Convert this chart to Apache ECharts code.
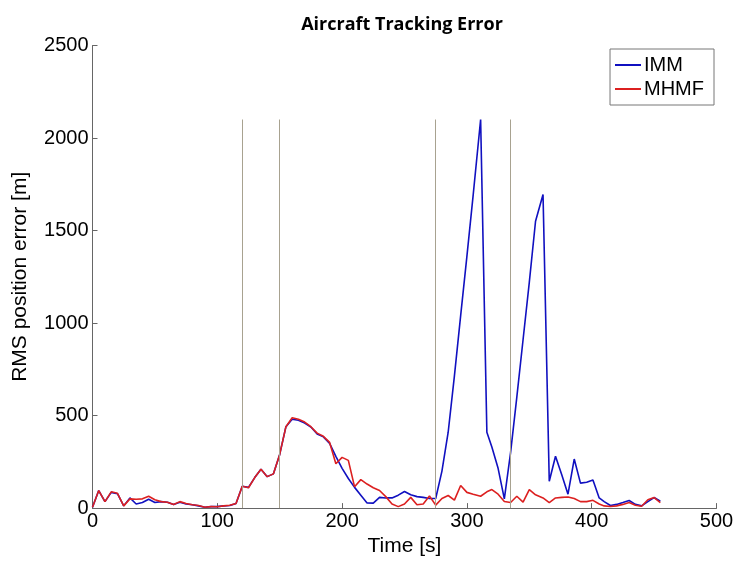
<!DOCTYPE html>
<html lang="en">

<head>
    <meta charset="UTF-8" />
    <title>Aircraft Tracking Error</title>
    <script src="https://cdn.jsdelivr.net/npm/echarts@6/dist/echarts.min.js"></script>
</head>
<style>
    * {
        margin: 0;
        padding: 0;
    }

    #main {
        width: 740px;
        height: 562px;
        background: #fff;
    }
</style>

<body>
    <div id="main"></div>
</body>
<script>
    // time samples [s]
    const times = [
        0, 5, 10, 15, 20, 25, 30, 35, 40, 45,
        50, 55, 60, 65, 70, 75, 80, 85, 90, 95,
        100, 105, 110, 115, 120, 125, 130, 135, 140, 145,
        150, 155, 160, 165, 170, 175, 180, 185, 190, 195,
        200, 205, 210, 215, 220, 225, 230, 235, 240, 245,
        250, 255, 260, 265, 270, 275, 280, 285, 290, 295,
        300, 305, 311, 316, 320, 325, 330, 335, 340, 345,
        350, 355, 361, 366, 371, 376, 381, 386, 391, 396,
        401, 406, 410, 415, 420, 425, 430, 435, 440, 445,
        450, 455
    ];
    const imm = [
        5, 95, 35, 85, 78, 12, 55, 22, 30, 48,
        30, 35, 32, 20, 32, 22, 18, 12, 5, 8,
        8, 12, 14, 25, 118, 112, 165, 210, 170, 185,
        290, 440, 480, 475, 460, 438, 400, 385, 350, 280,
        215, 160, 112, 70, 28, 27, 58, 55, 55, 70,
        90, 72, 62, 58, 52, 52, 200, 410, 715, 1040,
        1360, 1690, 2100, 410, 330, 215, 50, 300, 600, 910,
        1220, 1550, 1695, 145, 280, 180, 75, 265, 135, 140,
        152, 55, 35, 14, 20, 30, 41, 20, 12, 35,
        57, 37
    ];
    const mhmf = [
        5, 95, 35, 88, 80, 12, 50, 48, 50, 64,
        45, 35, 32, 20, 35, 25, 18, 14, 5, 8,
        7, 12, 15, 25, 118, 110, 165, 210, 170, 185,
        290, 440, 488, 480, 465, 440, 405, 388, 355, 240,
        274, 258, 115, 154, 130, 110, 95, 62, 22, 8,
        22, 58, 18, 22, 65, 16, 52, 68, 43, 122,
        85, 75, 64, 88, 100, 75, 36, 30, 64, 32,
        100, 72, 55, 30, 55, 58, 60, 52, 35, 35,
        42, 22, 12, 9, 12, 20, 30, 15, 10, 45,
        57, 30
    ];
    // mode change instants [s]
    const switchTimes = [120, 150, 275, 335];
    const switchTop = 2100;

    const xTicks = [0, 100, 200, 300, 400, 500];
    const yTicks = [0, 500, 1000, 1500, 2000, 2500];

    var myChart = echarts.init(document.getElementById("main"));
    var tickFont = { fontFamily: "Liberation Sans", fontSize: 20, color: "#000" };
    var nameFont = { fontFamily: "Liberation Sans", fontSize: 21, color: "#000" };
    var option = {
        animation: false,
        backgroundColor: "#fff",
        title: {
            text: "Aircraft Tracking Error",
            left: 397,
            textAlign: "center",
            top: 11,
            textStyle: { fontFamily: "Open Sans", fontWeight: "bold", fontSize: 18, color: "#000" },
        },
        legend: {
            data: ["IMM", "MHMF"],
            orient: "vertical",
            right: 26,
            top: 49,
            itemWidth: 26,
            itemHeight: 2,
            itemGap: 4,
            padding: [6, 10, 6, 4],
            borderColor: "#777",
            borderWidth: 1,
            textStyle: { fontFamily: "Liberation Sans", fontSize: 20, color: "#000", padding: [0, 0, 0, -2] },
        },
        grid: { left: 92.5, right: 23.5, top: 45.5, bottom: 51.5, containLabel: false },
        xAxis: {
            type: "value",
            min: xTicks[0],
            max: xTicks[xTicks.length - 1],
            interval: 100,
            name: "Time [s]",
            nameLocation: "middle",
            nameGap: 26,
            nameTextStyle: nameFont,
            axisLine: { show: true, lineStyle: { color: "#666" } },
            axisTick: { show: true, inside: true, length: 5, lineStyle: { color: "#666" } },
            axisLabel: Object.assign({ margin: 3, formatter: (v) => String(v) }, tickFont),
            splitLine: { show: false },
        },
        yAxis: {
            type: "value",
            min: yTicks[0],
            max: yTicks[yTicks.length - 1],
            interval: 500,
            name: "RMS position error [m]",
            nameLocation: "middle",
            nameGap: 62,
            nameTextStyle: nameFont,
            axisLine: { show: true, lineStyle: { color: "#666" } },
            axisTick: { show: true, inside: true, length: 5, lineStyle: { color: "#666" } },
            axisLabel: Object.assign({ margin: 4, formatter: (v) => String(v) }, tickFont),
            splitLine: { show: false },
        },
        series: [
            {
                name: "IMM",
                type: "line",
                data: times.map((t, i) => [t, imm[i]]),
                symbol: "none",
                lineStyle: { color: "#1010c0", width: 1.6 },
                itemStyle: { color: "#1010c0" },
                markLine: {
                    silent: true,
                    symbol: "none",
                    label: { show: false },
                    lineStyle: { color: "#a8a290", width: 1, type: "solid" },
                    data: switchTimes.map((t) => [{ coord: [t, 0] }, { coord: [t, switchTop] }]),
                },
                z: 2,
            },
            {
                name: "MHMF",
                type: "line",
                data: times.map((t, i) => [t, mhmf[i]]),
                symbol: "none",
                lineStyle: { color: "#dc2020", width: 1.6 },
                itemStyle: { color: "#dc2020" },
                z: 3,
            },
        ],
    };
    option && myChart.setOption(option);
</script>

</html>
